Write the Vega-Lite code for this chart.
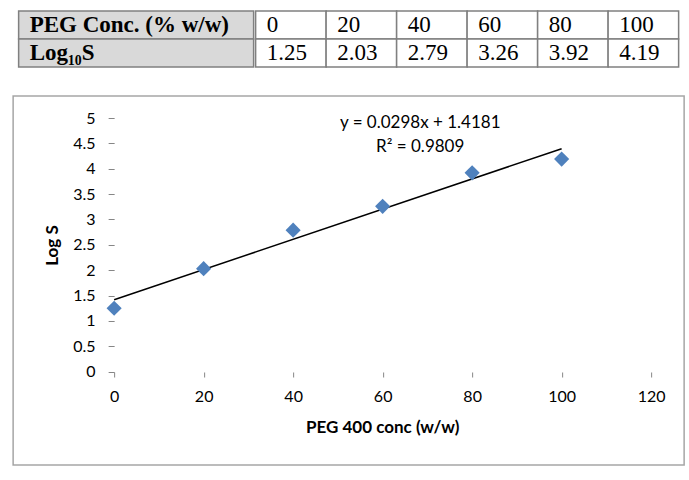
{
  "$schema": "https://vega.github.io/schema/vega-lite/v6.json",
  "background": "white",
  "padding": {"top": 10, "left": 12, "right": 0, "bottom": 0},
  "config": {
    "font": "Lato",
    "view": {"stroke": null}
  },
  "datasets": {
    "solubility": [
      {"conc": 0, "logS": 1.25},
      {"conc": 20, "logS": 2.03},
      {"conc": 40, "logS": 2.79},
      {"conc": 60, "logS": 3.26},
      {"conc": 80, "logS": 3.92},
      {"conc": 100, "logS": 4.19}
    ],
    "rowHeads": [
      {"row": "conc", "label": "PEG Conc. (% w/w)"},
      {"row": "logS", "label": "Log₁₀S"}
    ],
    "fitNote": [
      {"conc": 68.4, "logS": 4.9, "note": "y = 0.0298x + 1.4181"},
      {"conc": 68.4, "logS": 4.43, "note": "R² = 0.9809"}
    ]
  },
  "center": true,
  "spacing": 27,
  "vconcat": [
    {
      "spacing": 0,
      "hconcat": [
        {
          "width": 235,
          "height": 56,
          "data": {"name": "rowHeads"},
          "encoding": {
            "x": {"datum": "head", "type": "nominal", "axis": null, "scale": {"paddingInner": 0, "paddingOuter": 0}},
            "y": {"field": "row", "type": "nominal", "sort": ["conc", "logS"], "axis": null, "scale": {"paddingInner": 0, "paddingOuter": 0}}
          },
          "layer": [
            {"mark": {"type": "rect", "fill": "#d9d9d9", "stroke": "#808080", "strokeWidth": 1.5}},
            {
              "mark": {"type": "text", "align": "left", "baseline": "middle", "dx": 11, "font": "Liberation Serif", "fontWeight": "bold", "fontSize": 23, "color": "#000"},
              "encoding": {
                "x": {"datum": "head", "type": "nominal", "bandPosition": 0},
                "text": {"field": "label", "type": "nominal"}
              }
            }
          ]
        },
        {
          "width": 423,
          "height": 56,
          "data": {"name": "solubility"},
          "transform": [{"fold": ["conc", "logS"], "as": ["row", "value"]}],
          "encoding": {
            "x": {"field": "conc", "type": "ordinal", "axis": null, "scale": {"paddingInner": 0, "paddingOuter": 0}},
            "y": {"field": "row", "type": "nominal", "sort": ["conc", "logS"], "axis": null, "scale": {"paddingInner": 0, "paddingOuter": 0}}
          },
          "layer": [
            {"mark": {"type": "rect", "fill": "white", "stroke": "#808080", "strokeWidth": 1.5}},
            {
              "mark": {"type": "text", "align": "left", "baseline": "middle", "dx": 11, "font": "Liberation Serif", "fontSize": 23, "color": "#000"},
              "encoding": {
                "x": {"field": "conc", "type": "ordinal", "bandPosition": 0},
                "text": {"field": "value", "type": "nominal"}
              }
            }
          ]
        }
      ]
    },
    {
      "width": 671,
      "height": 369,
      "view": {"stroke": "#a6a6a6", "strokeWidth": 1.5},
      "data": {"name": "solubility"},
      "encoding": {
        "x": {
          "field": "conc",
          "type": "quantitative",
          "scale": {"domain": [-22.57, 127.37], "nice": false, "zero": false},
          "axis": {
            "values": [0, 20, 40, 60, 80, 100, 120],
            "offset": -93,
            "domain": false,
            "grid": false,
            "tickColor": "#868686",
            "tickSize": 5,
            "labelFont": "Lato",
            "labelFontSize": 16,
            "labelColor": "#000",
            "labelPadding": 11,
            "title": "PEG 400 conc (w/w)",
            "titleFont": "Lato",
            "titleFontSize": 17,
            "titleFontWeight": "bold",
            "titleColor": "#000",
            "titleX": 369,
            "titleY": 55,
            "titleAlign": "center",
            "titleBaseline": "middle"
          }
        },
        "y": {
          "field": "logS",
          "type": "quantitative",
          "scale": {"domain": [-1.839, 5.434], "nice": false, "zero": false},
          "axis": {
            "values": [0, 0.5, 1, 1.5, 2, 2.5, 3, 3.5, 4, 4.5, 5],
            "format": "~g",
            "offset": -101,
            "domain": false,
            "grid": false,
            "tickColor": "#868686",
            "tickSize": 6,
            "labelFont": "Lato",
            "labelFontSize": 16,
            "labelColor": "#000",
            "labelPadding": 13,
            "title": "Log S",
            "titleFont": "Lato",
            "titleFontSize": 17,
            "titleFontWeight": "bold",
            "titleColor": "#000",
            "titleAngle": -90,
            "titleX": -62,
            "titleY": 149,
            "titleAlign": "center",
            "titleBaseline": "middle"
          }
        }
      },
      "layer": [
        {
          "data": {"values": [{}]},
          "mark": {"type": "rule", "color": "#868686", "strokeWidth": 1.2},
          "encoding": {"x": {"datum": 0}, "x2": {"datum": 120}, "y": {"datum": 0}}
        },
        {
          "data": {"values": [{}]},
          "mark": {"type": "rule", "color": "#868686", "strokeWidth": 1.2},
          "encoding": {"x": {"datum": 0}, "y": {"datum": 0}, "y2": {"datum": 5}}
        },
        {
          "transform": [{"regression": "logS", "on": "conc", "extent": [0, 100]}],
          "mark": {"type": "line", "color": "#000", "strokeWidth": 1.5}
        },
        {
          "mark": {"type": "point", "shape": "diamond", "filled": true, "size": 230, "color": "#4f81bd", "opacity": 1}
        },
        {
          "data": {"name": "fitNote"},
          "mark": {"type": "text", "fontSize": 17, "align": "center", "baseline": "middle", "fill": "black"},
          "encoding": {
            "text": {"field": "note", "type": "nominal"}
          }
        }
      ]
    }
  ]
}
